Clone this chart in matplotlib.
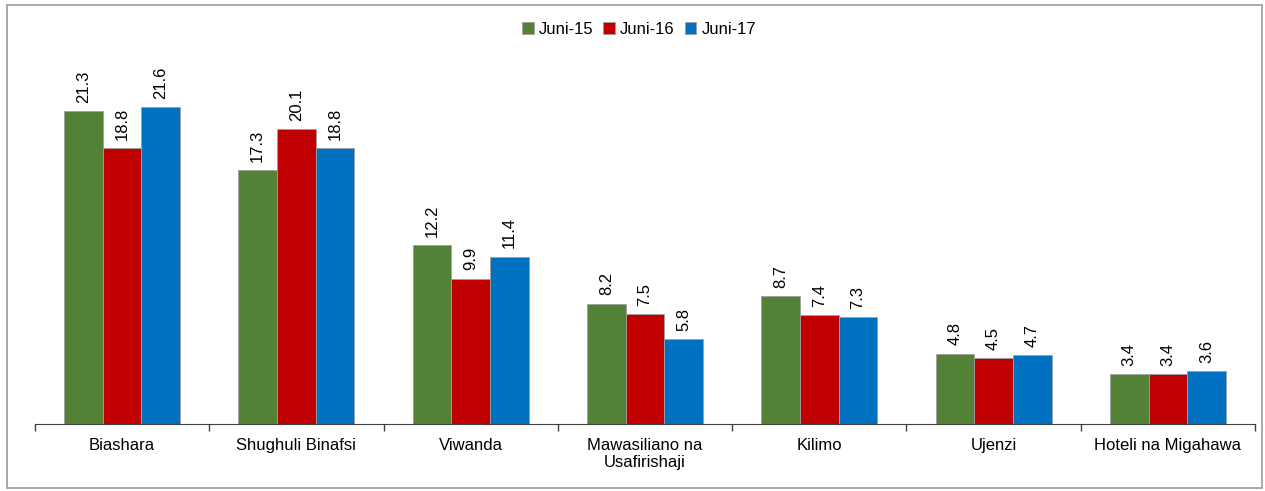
import numpy as np
import matplotlib
matplotlib.use("Agg")
import matplotlib.pyplot as plt
from matplotlib.patches import Rectangle

plt.rcParams["font.family"] = ["Liberation Sans", "DejaVu Sans"]

categories = ["Biashara", "Shughuli Binafsi", "Viwanda", "Mawasiliano na\nUsafirishaji",
              "Kilimo", "Ujenzi", "Hoteli na Migahawa"]
series = ["Juni-15", "Juni-16", "Juni-17"]
juni15 = [21.3, 17.3, 12.2, 8.2, 8.7, 4.8, 3.4]
juni16 = [18.8, 20.1, 9.9, 7.5, 7.4, 4.5, 3.4]
juni17 = [21.6, 18.8, 11.4, 5.8, 7.3, 4.7, 3.6]
colors = ["#538135", "#C00000", "#0070C0"]

fig = plt.figure(figsize=(12.65, 4.91), dpi=100)
# outer chart frame
fig.patches.append(Rectangle((7 / 1265, 3 / 491), 1255 / 1265, 483 / 491, transform=fig.transFigure,
                             fill=False, edgecolor="#999999", linewidth=1.2))

ax = fig.add_axes([35 / 1265, 67 / 491, 1220 / 1265, 384 / 491])

x = np.arange(len(categories))
w = 0.222
for i, (vals, name, c) in enumerate(zip([juni15, juni16, juni17], series, colors)):
    pos = x + (i - 1) * w
    bars = ax.bar(pos, vals, width=w, color=c, edgecolor="#a0a0a0", linewidth=0.6, label=name)
    for b, v in zip(bars, vals):
        ax.annotate(f"{v:.1f}", (b.get_x() + b.get_width() / 2, v), xytext=(0, 6),
                    textcoords="offset points", rotation=90, ha="center", va="bottom",
                    fontsize=12, color="black")

ax.set_xlim(-0.5, len(categories) - 0.5)
ax.set_ylim(0, 384 / 14.68)

ax.set_xticks(np.arange(-0.5, len(categories), 1))
ax.set_xticklabels([])
ax.set_xticks(x, minor=True)
ax.set_xticklabels(categories, minor=True, fontsize=12)
ax.tick_params(axis="x", which="major", direction="out", length=5, color="#404040", width=1)
ax.tick_params(axis="x", which="minor", length=0, pad=10)
ax.set_yticks([])

for s in ["top", "right", "left"]:
    ax.spines[s].set_visible(False)
ax.spines["bottom"].set_color("#404040")

ax.legend(loc="center", bbox_to_anchor=(639 / 1265, 1 - 29 / 491), bbox_transform=fig.transFigure,
          ncol=3, frameon=False, fontsize=12, handlelength=0.7, handleheight=0.7,
          handletextpad=0.3, columnspacing=0.6)

fig.savefig("out.png", dpi=100)
